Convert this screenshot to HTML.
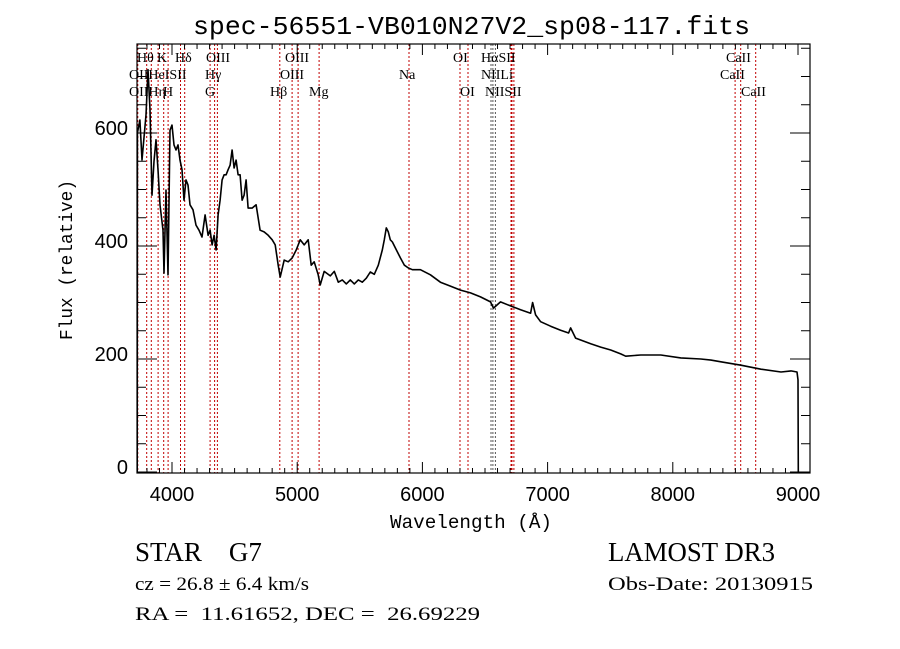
<!DOCTYPE html>
<html><head><meta charset="utf-8"><style>
html,body{margin:0;padding:0;background:#fff;}
svg{display:block;}
</style></head><body>
<svg id="chart" width="900" height="649" viewBox="0 0 900 649" xmlns="http://www.w3.org/2000/svg">
<rect x="0" y="0" width="900" height="649" fill="#fff"/>
<text x="193" y="34" font-family="Liberation Mono, monospace" font-size="26" textLength="557" lengthAdjust="spacingAndGlyphs">spec-56551-VB010N27V2_sp08-117.fits</text>
<g id="lines"></g>
<g id="labels" font-family="Liberation Serif, serif" font-size="14"></g>
<g id="series"></g>
<g id="axes"></g>
<text x="0" y="0" transform="translate(72,260) rotate(-90)" text-anchor="middle" font-family="Liberation Mono, monospace" font-size="18" textLength="160" lengthAdjust="spacingAndGlyphs">Flux (relative)</text>
<text x="390" y="528" font-family="Liberation Mono, monospace" font-size="19" textLength="162" lengthAdjust="spacingAndGlyphs">Wavelength (Å)</text>
<text x="135" y="561" font-family="Liberation Serif, serif" font-size="27" xml:space="preserve">STAR    G7</text>
<text x="608" y="561" font-family="Liberation Serif, serif" font-size="27" textLength="167" lengthAdjust="spacingAndGlyphs">LAMOST DR3</text>
<text x="135" y="590" font-family="Liberation Serif, serif" font-size="19" textLength="174" lengthAdjust="spacingAndGlyphs">cz = 26.8 ± 6.4 km/s</text>
<text x="608" y="590" font-family="Liberation Serif, serif" font-size="19" textLength="205" lengthAdjust="spacingAndGlyphs">Obs-Date: 20130915</text>
<text x="135" y="620" font-family="Liberation Serif, serif" font-size="19" textLength="345" lengthAdjust="spacingAndGlyphs" xml:space="preserve">RA =  11.61652, DEC =  26.69229</text>
</svg>
<script>
const wavelengths = [3722,3724,3744,3760,3792,3808,3824,3840,3856,3872,3888,3904,3928,3936,3952,3968,3984,4000,4016,4032,4048,4064,4080,4096,4112,4128,4144,4168,4192,4216,4240,4264,4288,4304,4320,4336,4352,4368,4384,4400,4416,4432,4448,4464,4480,4496,4512,4528,4544,4560,4576,4592,4608,4640,4672,4704,4736,4768,4800,4824,4848,4864,4896,4928,4960,4992,5024,5056,5088,5112,5136,5168,5184,5216,5264,5296,5328,5360,5392,5424,5456,5488,5520,5552,5584,5616,5648,5680,5696,5712,5728,5744,5760,5792,5824,5856,5888,5920,5984,6064,6144,6224,6304,6384,6464,6544,6568,6624,6704,6784,6864,6880,6904,6944,7024,7104,7168,7184,7224,7344,7424,7504,7584,7624,7744,7904,8064,8224,8304,8384,8544,8704,8864,8944,8992,9000,9002];
const fluxes = [0,600,623,552,632,712,641,490,550,588,535,473,428,352,499,349,605,614,579,570,579,552,535,481,517,508,473,464,437,428,416,455,419,428,402,419,393,455,481,517,526,526,535,543,570,538,552,526,526,481,490,517,467,467,473,428,425,419,411,402,366,345,375,372,379,393,411,402,411,366,372,349,331,355,347,355,336,340,333,340,333,340,336,343,354,350,366,393,411,432,425,411,407,393,379,366,361,358,358,349,336,329,322,317,310,301,290,301,294,287,281,300,278,266,258,251,246,255,237,227,221,216,209,205,207,207,202,200,198,195,189,182,177,179,177,163,0];
const xTicks = [4000,5000,6000,7000,8000,9000];
const yTicks = [0,200,400,600];
const lineWaves = [3727,3798,3835,3889,3933.7,3968.5,4068,4101.7,4304,4340.5,4363,4861,4959,5007,5175,5893,6300,6364,6548,6563,6583,6708,6716,6731,8498,8542,8662];
const lineGray = [6548,6563,6583];
const labelText = ["Hθ","K","Hδ","OIII","OIII","OI","HαSII","CaII","OIIHeISII","Hγ","OIII","Na","NIILi","CaII","OIIHη","H","G","Hβ","Mg","OI","NIISII","CaII"];

const NS='http://www.w3.org/2000/svg';
const L=137,R=810,T=44,B=473;
const xScale=w=>172+(w-4000)*0.1252;
const yScale=f=>472-f*0.565;
function mk(tag,attrs,parent){const e=document.createElementNS(NS,tag);for(const k in attrs)e.setAttribute(k,attrs[k]);parent.appendChild(e);return e;}

const lg=document.getElementById('lines');
lineWaves.forEach(w=>{
  const x=xScale(w).toFixed(1);
  const ln=mk('line',{x1:x,x2:x,y1:T,y2:B,stroke:lineGray.includes(w)?'#555':'#c00000','stroke-width':1,'stroke-dasharray':'2,2'},lg);
  
  
});

const labPos=[[137,62],[157,62],[175,62],[206,62],[285,62],[453,62],[481,62],[726,62],
[129,79],[205,79],[280,79],[399,79],[481,79],[720,79],
[129,96],[163,96],[205,96],[270,96],[309,96],[460,96],[485,96],[741,96]];
const lb=document.getElementById('labels');
labelText.forEach((s,i)=>{
  const t=mk('text',{x:labPos[i][0],y:labPos[i][1]},lb);
  t.textContent=s;
  
  
});

const sg=document.getElementById('series');
const clip=mk('clipPath',{id:'pc'},sg);mk('rect',{x:L,y:T,width:R-L,height:B-T},clip);
let d='';
wavelengths.forEach((w,i)=>{d+=(i?'L':'M')+xScale(w).toFixed(1)+','+yScale(fluxes[i]).toFixed(1);});
const p=mk('path',{d:d,fill:'none',stroke:'#000','stroke-width':1.6,'clip-path':'url(#pc)','stroke-linejoin':'round'},sg);



const ag=document.getElementById('axes');
const fr=mk('rect',{x:L,y:T,width:R-L,height:B-T,fill:'none',stroke:'#000','stroke-width':1.2},ag);


for(let w=3800;w<=9000;w+=100){
  const x=xScale(w);if(x<L||x>R)continue;
  const len=(w%1000===0)?11:5;
  mk('line',{x1:x,x2:x,y1:B,y2:B-len,stroke:'#000','stroke-width':1},ag);
  mk('line',{x1:x,x2:x,y1:T,y2:T+len,stroke:'#000','stroke-width':1},ag);
}
for(let f=0;f<=750;f+=50){
  const y=yScale(f);if(y<T||y>B)continue;
  const len=(f%200===0)?20:9;
  mk('line',{x1:L,x2:L+len,y1:y,y2:y,stroke:'#000','stroke-width':1},ag);
  mk('line',{x1:R,x2:R-len,y1:y,y2:y,stroke:'#000','stroke-width':1},ag);
}
xTicks.forEach(w=>{
  const t=mk('text',{x:xScale(w),y:501,'text-anchor':'middle','font-family':'Liberation Sans, sans-serif','font-size':20},ag);
  t.textContent=String(w);
  
  
});
yTicks.forEach(f=>{
  const t=mk('text',{x:128,y:yScale(f)+2,'text-anchor':'end','font-family':'Liberation Sans, sans-serif','font-size':20},ag);
  t.textContent=String(f);
  
  
});
</script>
</body></html>
